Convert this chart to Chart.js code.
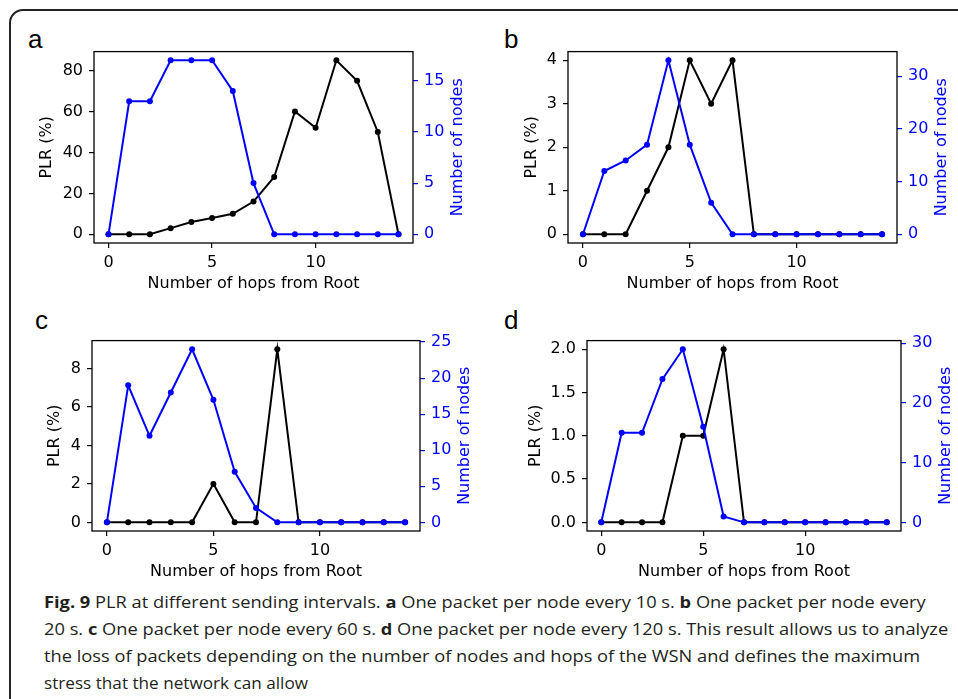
<!DOCTYPE html>
<html>
<head>
<meta charset="utf-8">
<script src="https://cdn.jsdelivr.net/npm/chart.js@4.4.1/dist/chart.umd.min.js"></script>
<style>
  body { margin: 0; width: 958px; height: 699px; overflow: hidden; background: #fff; position: relative; }
  .frame { position: absolute; left: 9px; top: 9px; width: 1000px; height: 800px; border: 2px solid #222; border-radius: 14px; box-sizing: border-box; }
  canvas { position: absolute; }
  .tag { position: absolute; font: 26px 'Liberation Sans'; line-height: 26px; color: #000; }
  .cap { position: absolute; left: 44px; font: 16.5px 'Open Sans'; line-height: 20px; color: #231f20; white-space: nowrap; transform-origin: 0 50%; }
  .cap b { font-weight: 700; }
</style>
</head>
<body>
<div class="frame"></div>
<div class="tag" style="left:28px;top:26px">a</div>
<div class="tag" style="left:504px;top:26px">b</div>
<div class="tag" style="left:35px;top:307px">c</div>
<div class="tag" style="left:504px;top:307px">d</div>

<span class="cap" style="top:592px"><b>Fig. 9</b> PLR at different sending intervals. <b>a</b> One packet per node every 10 s. <b>b</b> One packet per node every</span>
<span class="cap" style="top:619px">20 s. <b>c</b> One packet per node every 60 s. <b>d</b> One packet per node every 120 s. This result allows us to analyze</span>
<span class="cap" style="top:646px">the loss of packets depending on the number of nodes and hops of the WSN and defines the maximum</span>
<span class="cap" style="top:673px">stress that the network can allow</span>

<script>
// data
const hops = [0, 1, 2, 3, 4, 5, 6, 7, 8, 9, 10, 11, 12, 13, 14];
const xTicks = [0, 5, 10];

const plrA = [0, 0, 0, 3, 6, 8, 10, 16, 28, 60, 52, 85, 75, 50, 0];
const nodesA = [0, 13, 13, 17, 17, 17, 14, 5, 0, 0, 0, 0, 0, 0, 0];
const plrTicksA = [0, 20, 40, 60, 80];
const nodeTicksA = [0, 5, 10, 15];

const plrB = [0, 0, 0, 1, 2, 4, 3, 4, 0, 0, 0, 0, 0, 0, 0];
const nodesB = [0, 12, 14, 17, 33, 17, 6, 0, 0, 0, 0, 0, 0, 0, 0];
const plrTicksB = [0, 1, 2, 3, 4];
const nodeTicksB = [0, 10, 20, 30];

const plrC = [0, 0, 0, 0, 0, 2, 0, 0, 9, 0, 0, 0, 0, 0, 0];
const nodesC = [0, 19, 12, 18, 24, 17, 7, 2, 0, 0, 0, 0, 0, 0, 0];
const plrTicksC = [0, 2, 4, 6, 8];
const nodeTicksC = [0, 5, 10, 15, 20, 25];

const plrD = [0, 0, 0, 0, 1, 1, 2, 0, 0, 0, 0, 0, 0, 0, 0];
const nodesD = [0, 15, 15, 24, 29, 16, 1, 0, 0, 0, 0, 0, 0, 0, 0];
const plrTicksD = [0, 0.5, 1, 1.5, 2];
const nodeTicksD = [0, 10, 20, 30];

const BLUE = '#0000ff';
const FONT = { family: 'DejaVu Sans', size: 16 };
const AX_L = 75, AX_R = 75, AX_B = 55, PAD_T = 8;

// layout of each panel: plot box [left, top, right, bottom] and gap of left title
const panels = [
  { plr: plrA, nodes: nodesA, plrTicks: plrTicksA, nodeTicks: nodeTicksA, dec: 0, box: [94, 44, 413, 243], leftGap: 47 },
  { plr: plrB, nodes: nodesB, plrTicks: plrTicksB, nodeTicks: nodeTicksB, dec: 0, box: [568, 44, 897, 243], leftGap: 36 },
  { plr: plrC, nodes: nodesC, plrTicks: plrTicksC, nodeTicks: nodeTicksC, dec: 0, box: [92, 333, 420, 531], leftGap: 37 },
  { plr: plrD, nodes: nodesD, plrTicks: plrTicksD, nodeTicks: nodeTicksD, dec: 1, box: [587, 333, 901, 531], leftGap: 51 }
];

// matplotlib style 5% margins
function limits(values) {
  const lo = Math.min(...values), hi = Math.max(...values);
  const m = (hi - lo) * 0.05;
  return [lo - m, hi + m];
}

// frame around plot area + right title reading upwards
const boxPlugin = {
  id: 'box',
  afterDraw(chart) {
    const { ctx, chartArea: a } = chart;
    ctx.save();
    ctx.strokeStyle = '#000';
    ctx.lineWidth = 1.3;
    ctx.strokeRect(a.left, a.top, a.right - a.left, a.bottom - a.top);
    ctx.translate(a.right + 45, (a.top + a.bottom) / 2);
    ctx.rotate(-Math.PI / 2);
    ctx.fillStyle = BLUE;
    ctx.font = '16px "DejaVu Sans"';
    ctx.textAlign = 'center';
    ctx.textBaseline = 'middle';
    ctx.fillText('Number of nodes', 0, 0);
    ctx.restore();
  }
};

function tickGrid(color) {
  return { display: true, drawOnChartArea: false, drawTicks: true, tickLength: 5, color: color, lineWidth: 1.2 };
}

panels.forEach(p => {
  const [l, t, r, b] = p.box;
  const canvas = document.createElement('canvas');
  canvas.width = (r - l) + AX_L + AX_R;
  canvas.height = (b - t) + PAD_T + AX_B;
  canvas.style.left = (l - AX_L) + 'px';
  canvas.style.top = (t - PAD_T) + 'px';
  document.body.appendChild(canvas);

  const [yMin, yMax] = limits(p.plr);
  const [y1Min, y1Max] = limits(p.nodes);

  new Chart(canvas.getContext('2d'), {
    type: 'line',
    data: {
      datasets: [
        {
          data: hops.map((x, i) => ({ x: x, y: p.nodes[i] })),
          yAxisID: 'y1', order: 0,
          borderColor: BLUE, backgroundColor: BLUE, borderWidth: 2,
          pointRadius: 3, pointBorderWidth: 0, pointHoverRadius: 3, tension: 0
        },
        {
          data: hops.map((x, i) => ({ x: x, y: p.plr[i] })),
          yAxisID: 'y', order: 1,
          borderColor: '#000', backgroundColor: '#000', borderWidth: 2,
          pointRadius: 3, pointBorderWidth: 0, pointHoverRadius: 3, tension: 0
        }
      ]
    },
    options: {
      responsive: false,
      animation: false,
      devicePixelRatio: 1,
      layout: { padding: { top: PAD_T, left: 0, right: 0, bottom: 0 } },
      plugins: { legend: { display: false }, tooltip: { enabled: false } },
      scales: {
        x: {
          type: 'linear', min: -0.7, max: 14.7,
          afterBuildTicks: s => { s.ticks = xTicks.map(v => ({ value: v })); },
          afterFit: s => { s.height = AX_B; },
          grid: tickGrid('#000'),
          border: { display: false },
          ticks: { color: '#000', font: FONT, padding: 5, maxRotation: 0, autoSkip: false },
          title: { display: true, text: 'Number of hops from Root', color: '#000', font: FONT, padding: { top: 0, bottom: 4.6 } }
        },
        y: {
          position: 'left', min: yMin, max: yMax,
          afterBuildTicks: s => { s.ticks = p.plrTicks.map(v => ({ value: v })); },
          afterFit: s => { s.width = AX_L; },
          grid: tickGrid('#000'),
          border: { display: false },
          ticks: { color: '#000', font: FONT, padding: 6, autoSkip: false, callback: v => v.toFixed(p.dec) },
          title: { display: true, text: 'PLR (%)', color: '#000', font: FONT, padding: { top: AX_L - p.leftGap - 9.6, bottom: 0 } }
        },
        y1: {
          position: 'right', min: y1Min, max: y1Max,
          afterBuildTicks: s => { s.ticks = p.nodeTicks.map(v => ({ value: v })); },
          afterFit: s => { s.width = AX_R; },
          grid: tickGrid(BLUE),
          border: { display: false },
          ticks: { color: BLUE, font: FONT, padding: 6, autoSkip: false, callback: v => v.toFixed(0) }
        }
      }
    },
    plugins: [boxPlugin]
  });
});

// caption lines fitted to the reference line lengths
const capEnds = [926, 948, 920, 308];
document.fonts.ready.then(() => {
  document.querySelectorAll('.cap').forEach((el, i) => {
    el.style.transform = 'scaleX(' + ((capEnds[i] - 44) / el.offsetWidth) + ')';
  });
});
</script>
</body>
</html>
